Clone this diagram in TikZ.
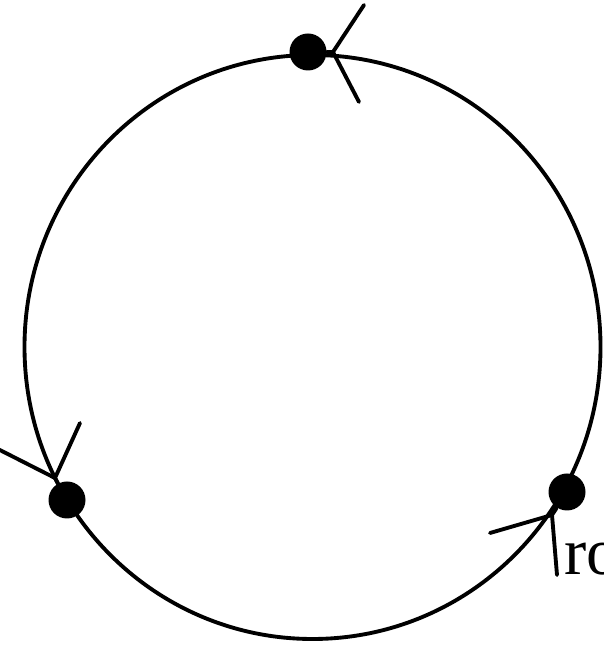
\documentclass[tikz,border=0pt]{standalone}
\usepackage{fontspec}
\setmainfont{Liberation Serif}
\usepackage{tikz}

\begin{document}
\begin{tikzpicture}[
    dot/.style={circle, fill=black, inner sep=0pt, minimum size=0.37cm},
    ring/.style={draw, line width=1.1pt},
    barb/.style={line width=1.1pt, line cap=round},
    lbl/.style={inner sep=0pt, font=\fontsize{19}{19}\selectfont}
  ]
    % Frame
    \useasboundingbox (0,0) rectangle (6.04,6.50);
    \clip (0,0) rectangle (6.04,6.50);

    % Circle
    \coordinate (c) at (3.125,3.03);
    \draw[ring] (c) ellipse (2.88 and 2.92);

    % Nodes
    \node[dot] (top) at (3.08,5.98) {};
    \node[dot] (lft) at (0.67,1.50) {};
    \node[dot] (rgt) at (5.67,1.58) {};

    % Arrow heads into the nodes
    \coordinate (toptip) at (3.33,5.98);
    \coordinate (topa) at (3.64,6.45);
    \coordinate (topb) at (3.59,5.48);
    \coordinate (lfttip) at (0.55,1.72);
    \coordinate (lfta) at (0.80,2.27);
    \coordinate (lftb) at (-0.10,2.05);
    \coordinate (rgttip) at (5.52,1.35);
    \coordinate (rgta) at (4.90,1.17);
    \coordinate (rgtb) at (5.57,0.75);

    \draw[barb] (top) -- (toptip);
    \draw[barb] (toptip) -- (topa);
    \draw[barb] (toptip) -- (topb);
    \draw[barb] (lft) -- (lfttip);
    \draw[barb] (lfttip) -- (lfta);
    \draw[barb] (lfttip) -- (lftb);
    \draw[barb] (rgt) -- (rgttip);
    \draw[barb] (rgttip) -- (rgta);
    \draw[barb] (rgttip) -- (rgtb);

    % Label
    \node[lbl, anchor=base west] (ro) at (5.64,0.76) {ro};
  \end{tikzpicture}
\end{document}
